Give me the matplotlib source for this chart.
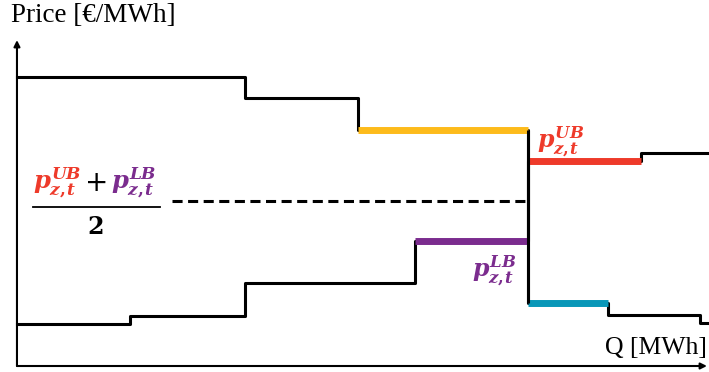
import matplotlib
matplotlib.use("Agg")
import matplotlib.pyplot as plt

plt.rcParams["mathtext.fontset"] = "custom"
plt.rcParams["mathtext.it"] = "DejaVu Serif:italic:bold"
plt.rcParams["mathtext.rm"] = "DejaVu Serif:bold"
plt.rcParams["mathtext.bf"] = "DejaVu Serif:bold"

# Demand curve (decreasing steps): quantity breakpoints and price of each block
demand_q = [0, 33.0, 49.4, 74.1, 85.7, 99.0, 100.3]
demand_p = [88.7, 82.2, 72.4, 19.3, 15.6, 13.2, 13.2]

# Supply curve (increasing steps)
supply_q = [0, 16.4, 33.0, 57.7, 74.1, 90.4, 100.3]
supply_p = [12.9, 15.3, 25.5, 38.3, 62.9, 65.3, 65.3]

# Highlighted blocks: (curve, block index, colour)
yellow, red, purple, cyan = "#FDBB1B", "#EE3A2A", "#7B2C8E", "#0997B8"
highlights = [("demand", 2, yellow), ("demand", 3, cyan),
              ("supply", 3, purple), ("supply", 4, red)]

q_clear = 74.1
p_ub = supply_p[4]
p_lb = supply_p[3]
p_mid = (p_ub + p_lb) / 2

lbl_ub = r"$p_{z,\!t}^{UB}$"
lbl_lb = r"$p_{z,\!t}^{LB}$"

fig = plt.figure(figsize=(7.09, 3.72), dpi=100)
ax = fig.add_axes([0, 0, 1, 1])
ax.set_xlim(-2.46, 100.3)
ax.set_ylim(-1.84, 112.3)
ax.set_axis_off()

# axes with arrows
arrow = dict(arrowstyle="-|>", lw=1.5, color="black", mutation_scale=9,
             shrinkA=0, shrinkB=0)
ax.annotate("", xy=(0, 100), xytext=(0, 0), arrowprops=arrow)
ax.annotate("", xy=(100, 0), xytext=(0, 0), arrowprops=arrow)

ax.step(demand_q, demand_p, where="post", color="black", lw=2.2, zorder=2)
ax.step(supply_q, supply_p, where="post", color="black", lw=2.2, zorder=2)

curves = {"demand": (demand_q, demand_p), "supply": (supply_q, supply_p)}
for name, i, col in highlights:
    q, p = curves[name]
    ax.plot([q[i], q[i + 1]], [p[i], p[i]], color=col, lw=5, zorder=3,
            solid_capstyle="butt")

ax.vlines(q_clear, demand_p[3], demand_p[2], color="black", lw=2.2, zorder=4)

# average price line
ax.plot([22.5, q_clear], [p_mid, p_mid], color="black", lw=2.2,
        dashes=(3.3, 1.8), zorder=2)

ax.text(-0.8, 107.5, "Price [€/MWh]", family="Liberation Serif", fontsize=19.5,
        ha="left", va="center")
ax.text(100.0, 2.0, "Q [MWh]", family="Liberation Serif", fontsize=18.5,
        ha="right", va="bottom")

ax.text(75.4, p_ub + 0.6, lbl_ub, color=red, fontsize=17,
        ha="left", va="bottom")
ax.text(66.0, 24.0, lbl_lb, color=purple, fontsize=17,
        ha="left", va="bottom")

# fraction label
ax.text(2.3, 50.9, lbl_ub, color=red, fontsize=17.5,
        ha="left", va="bottom")
ax.text(11.5, 56.1, "+", family="DejaVu Sans", color="black", fontsize=20,
        ha="center", va="center")
ax.text(13.6, 50.9, lbl_lb, color=purple, fontsize=17.5,
        ha="left", va="bottom")
ax.plot([2.3, 20.8], [48.8, 48.8], color="black", lw=1.3)
ax.text(11.4, 42.6, "2", family="DejaVu Serif", fontweight="bold",
        fontsize=17, ha="center", va="center")

fig.savefig("out.png", dpi=100)
